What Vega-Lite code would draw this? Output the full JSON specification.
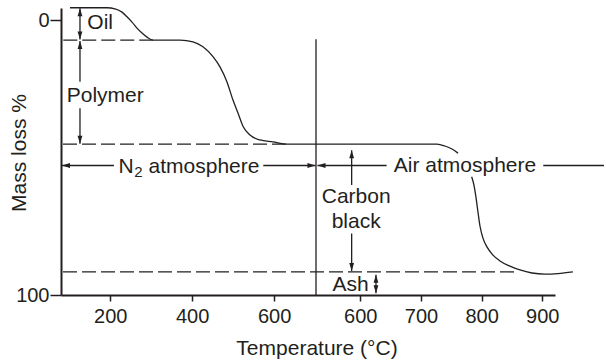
{
  "$schema": "https://vega.github.io/schema/vega-lite/v6.json",
  "width": 494,
  "height": 287,
  "autosize": "none",
  "padding": {"left": 61, "top": 8, "right": 51, "bottom": 67},
  "background": "white",
  "config": {
    "view": {"stroke": null},
    "font": "Liberation Sans",
    "text": {"font": "Liberation Sans", "color": "#231f20"}
  },
  "encoding": {
    "x": {
      "field": "u", "type": "quantitative",
      "scale": {"domain": [80, 1285], "nice": false, "zero": false},
      "axis": {
        "values": [200, 400, 600, 810, 958, 1106, 1254],
        "labelExpr": "datum.value == 810 ? '600' : datum.value == 958 ? '700' : datum.value == 1106 ? '800' : datum.value == 1254 ? '900' : datum.label",
        "grid": false, "tickSize": 6, "tickWidth": 1.5, "tickColor": "#231f20",
        "domainWidth": 2, "domainColor": "#231f20",
        "labelFont": "Liberation Sans", "labelFontSize": 20, "labelColor": "#231f20", "labelPadding": 5,
        "labelFlush": false, "labelOverlap": false,
        "title": "Temperature (°C)", "titleFont": "Liberation Sans", "titleFontSize": 21, "titleFontWeight": "normal",
        "titleColor": "#231f20", "titleX": 255.5, "titleY": 59, "titleAlign": "center", "titleBaseline": "alphabetic"
      }
    },
    "y": {
      "field": "m", "type": "quantitative",
      "scale": {"domain": [-4.4, 100], "reverse": true, "nice": false, "zero": false},
      "axis": {
        "values": [0, 100],
        "grid": false, "tickSize": 11, "tickWidth": 1.5, "tickColor": "#231f20",
        "domainWidth": 2, "domainColor": "#231f20",
        "labelFont": "Liberation Sans", "labelFontSize": 20, "labelColor": "#231f20", "labelPadding": 1,
        "labelFlush": false, "labelOverlap": false,
        "title": "Mass loss %", "titleFont": "Liberation Sans", "titleFontSize": 21, "titleFontWeight": "normal",
        "titleColor": "#231f20", "titleX": -36, "titleY": 144.5, "titleAngle": 270, "titleAlign": "center", "titleBaseline": "alphabetic"
      }
    }
  },
  "layer": [
    {
      "data": {"values": [
        {"u": 102, "m": -4.5, "seg": "a"}, {"u": 192.2, "m": -4.5, "seg": "a"},
        {"u": 211.7, "m": -4.1, "seg": "a"}, {"u": 228.8, "m": -2.9, "seg": "a"},
        {"u": 241, "m": -1.2, "seg": "a"}, {"u": 253.2, "m": 0.73, "seg": "a"},
        {"u": 265.4, "m": 2.9, "seg": "a"}, {"u": 277.6, "m": 4.7, "seg": "a"},
        {"u": 289.8, "m": 6.2, "seg": "a"}, {"u": 304.4, "m": 7.27, "seg": "a"},
        {"u": 370.2, "m": 7.27, "seg": "a"}, {"u": 402, "m": 7.9, "seg": "a"},
        {"u": 426.3, "m": 9.7, "seg": "a"}, {"u": 450.7, "m": 13.3, "seg": "a"},
        {"u": 467.8, "m": 17, "seg": "a"}, {"u": 484.9, "m": 22.5, "seg": "a"},
        {"u": 499.5, "m": 29.1, "seg": "a"}, {"u": 511.7, "m": 33.8, "seg": "a"},
        {"u": 523.9, "m": 38.6, "seg": "a"}, {"u": 541, "m": 41.8, "seg": "a"},
        {"u": 565.4, "m": 43.6, "seg": "a"}, {"u": 597.1, "m": 44.3, "seg": "a"},
        {"u": 631.2, "m": 45.1, "seg": "a"}, {"u": 997, "m": 45.1, "seg": "a"},
        {"u": 1016.6, "m": 45.8, "seg": "a"}, {"u": 1033.7, "m": 46.9, "seg": "a"},
        {"u": 1048.3, "m": 48.4, "seg": "a"},
        {"u": 1081.7, "m": 57, "seg": "b"}, {"u": 1087.3, "m": 60, "seg": "b"},
        {"u": 1092.2, "m": 64.4, "seg": "b"}, {"u": 1097.1, "m": 69.8, "seg": "b"},
        {"u": 1102, "m": 74.9, "seg": "b"}, {"u": 1109.3, "m": 79.3, "seg": "b"},
        {"u": 1119, "m": 82.5, "seg": "b"}, {"u": 1133.7, "m": 85.5, "seg": "b"},
        {"u": 1150.7, "m": 87.6, "seg": "b"}, {"u": 1175.1, "m": 89.5, "seg": "b"},
        {"u": 1199.5, "m": 90.9, "seg": "b"}, {"u": 1228.8, "m": 92, "seg": "b"},
        {"u": 1260.5, "m": 92.4, "seg": "b"}, {"u": 1292.2, "m": 92.2, "seg": "b"},
        {"u": 1328.8, "m": 91.6, "seg": "b"}
      ]},
      "mark": {"type": "line", "interpolate": "monotone", "color": "#231f20", "strokeWidth": 1.3},
      "encoding": {"detail": {"field": "seg"}}
    },
    {
      "data": {"values": [
        {"u": 85.5, "u2": 304.4, "m": 7.27, "m2": 7.27},
        {"u": 84.9, "u2": 631.2, "m": 45.1, "m2": 45.1},
        {"u": 84.9, "u2": 1195, "m": 91.6, "m2": 91.6}
      ]},
      "mark": {"type": "rule", "color": "#231f20", "strokeWidth": 1.3, "strokeDash": [14, 5]},
      "encoding": {
        "x2": {"field": "u2"},
        "y2": {"field": "m2"}
      }
    },
    {
      "data": {"values": [
        {"u": 702, "u2": 702, "m": 7.0, "m2": 100},
        {"u": 126.3, "u2": 126.3, "m": -4.3, "m2": 7.1},
        {"u": 126.3, "u2": 126.3, "m": 7.6, "m2": 22.4},
        {"u": 126.3, "u2": 126.3, "m": 32.1, "m2": 45.0},
        {"u": 82.4, "u2": 209.2, "m": 52.9, "m2": 52.9},
        {"u": 573.4, "u2": 700.7, "m": 52.9, "m2": 52.9},
        {"u": 705.6, "u2": 874.3, "m": 52.9, "m2": 52.9},
        {"u": 1256.4, "u2": 1404.4, "m": 52.9, "m2": 52.9},
        {"u": 789, "u2": 789, "m": 47.3, "m2": 60},
        {"u": 789, "u2": 789, "m": 77.6, "m2": 91.3},
        {"u": 848.3, "u2": 848.3, "m": 92.6, "m2": 99.4}
      ]},
      "mark": {"type": "rule", "color": "#231f20", "strokeWidth": 1.3},
      "encoding": {
        "x2": {"field": "u2"},
        "y2": {"field": "m2"}
      }
    },
    {
      "data": {"values": [
        {"u": 126.3, "m": -4.3, "dir": "up"},
        {"u": 126.3, "m": 7.1, "dir": "down"},
        {"u": 126.3, "m": 7.6, "dir": "up"},
        {"u": 126.3, "m": 45.0, "dir": "down"},
        {"u": 82.4, "m": 52.9, "dir": "left"},
        {"u": 700.7, "m": 52.9, "dir": "right"},
        {"u": 705.6, "m": 52.9, "dir": "left"},
        {"u": 789, "m": 47.3, "dir": "up"},
        {"u": 789, "m": 91.3, "dir": "down"},
        {"u": 848.3, "m": 92.6, "dir": "up"},
        {"u": 848.3, "m": 99.4, "dir": "down"}
      ]},
      "mark": {"type": "point", "filled": true, "color": "#231f20", "size": 64, "opacity": 1, "strokeWidth": 0},
      "encoding": {
        "shape": {
          "field": "dir", "type": "nominal", "legend": null,
          "scale": {
            "domain": ["up", "down", "left", "right"],
            "range": ["M0,0L-0.6,2L0.6,2Z", "M0,0L-0.6,-2L0.6,-2Z", "M0,0L2,-0.6L2,0.6Z", "M0,0L-2,-0.6L-2,0.6Z"]
          }
        }
      }
    },
    {
      "data": {"values": [
        {"u": 144.2, "m": 3.4, "label": "Oil"},
        {"u": 93.9, "m": 29.7, "label": "Polymer"},
        {"u": 220.5, "m": 55.8, "label": "N"},
        {"u": 293.5, "m": 55.8, "label": "atmosphere"}
      ]},
      "mark": {"type": "text", "align": "left", "baseline": "alphabetic", "fontSize": 21, "color": "#231f20"},
      "encoding": {"text": {"field": "label"}}
    },
    {
      "data": {"values": [
        {"u": 258.5, "m": 57.2, "label": "2"}
      ]},
      "mark": {"type": "text", "align": "left", "baseline": "alphabetic", "fontSize": 15, "color": "#231f20"},
      "encoding": {"text": {"field": "label"}}
    },
    {
      "data": {"values": [
        {"u": 1065.4, "m": 55.2, "label": "Air atmosphere"},
        {"u": 800, "m": 66.7, "label": "Carbon"},
        {"u": 800, "m": 75.8, "label": "black"},
        {"u": 786.1, "m": 98.5, "label": "Ash"}
      ]},
      "mark": {"type": "text", "align": "center", "baseline": "alphabetic", "fontSize": 21, "color": "#231f20"},
      "encoding": {"text": {"field": "label"}}
    }
  ]
}
